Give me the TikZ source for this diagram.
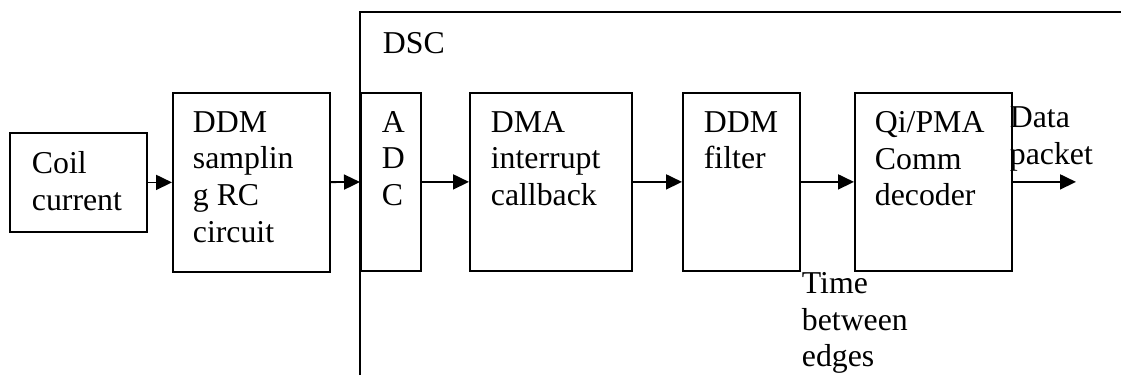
\documentclass[tikz,border=0pt]{standalone}
\usepackage{fontspec}
\setmainfont{Liberation Serif}
\usetikzlibrary{arrows.meta}

\begin{document}
\begin{tikzpicture}[x=1pt,y=-1pt,line width=1.8pt,
  blk/.style={draw,inner sep=0pt,anchor=north west},
  lbl/.style={anchor=north west,inner sep=0pt,align=left,
    font=\fontsize{31.8}{36.6}\selectfont},
  >={Triangle[length=16pt,width=15pt]}]
  \useasboundingbox (0,0) rectangle (1121,375);

  % DSC frame
  \draw (360,375) -- (360,12) -- (1121,12);
  \node[lbl] (dsc) at (382,31.5) {DSC};

  \node[blk,minimum width=137pt,minimum height=99pt] (coil) at (9,132) {};
  \node[blk,minimum width=157pt,minimum height=179pt] (samp) at (172,92) {};
  \node[blk,minimum width=60pt,minimum height=178pt] (adc) at (360,92) {};
  \node[blk,minimum width=162pt,minimum height=178pt] (dma) at (469,92) {};
  \node[blk,minimum width=117pt,minimum height=178pt] (filt) at (682,92) {};
  \node[blk,minimum width=157pt,minimum height=178pt] (qi) at (854,92) {};

  \node[lbl] (coiltxt) at (31,151) {Coil\\current};
  \node[lbl] (samptxt) at (192,110.5) {DDM\\samplin\\g RC\\circuit};
  \node[lbl] (adctxt) at (381,110.5) {A\\D\\C};
  \node[lbl] (dmatxt) at (490,110.5) {DMA\\interrupt\\callback};
  \node[lbl] (filttxt) at (703,110.5) {DDM\\filter};
  \node[lbl] (qitxt) at (874,110.5) {Qi/PMA\\Comm\\decoder};
  \node[lbl] (data) at (1009,106) {Data\\packet};
  \node[lbl] (time) at (801,271.5) {Time\\between\\edges};

  \coordinate (out) at (1076,181);
  \draw[->] (coil) -- (samp);
  \draw[->] (samp) -- (adc);
  \draw[->] (adc) -- (dma);
  \draw[->] (dma) -- (filt);
  \draw[->] (filt) -- (qi);
  \draw[->] (qi.east) -- (qi.east -| out);
\end{tikzpicture}
\end{document}
